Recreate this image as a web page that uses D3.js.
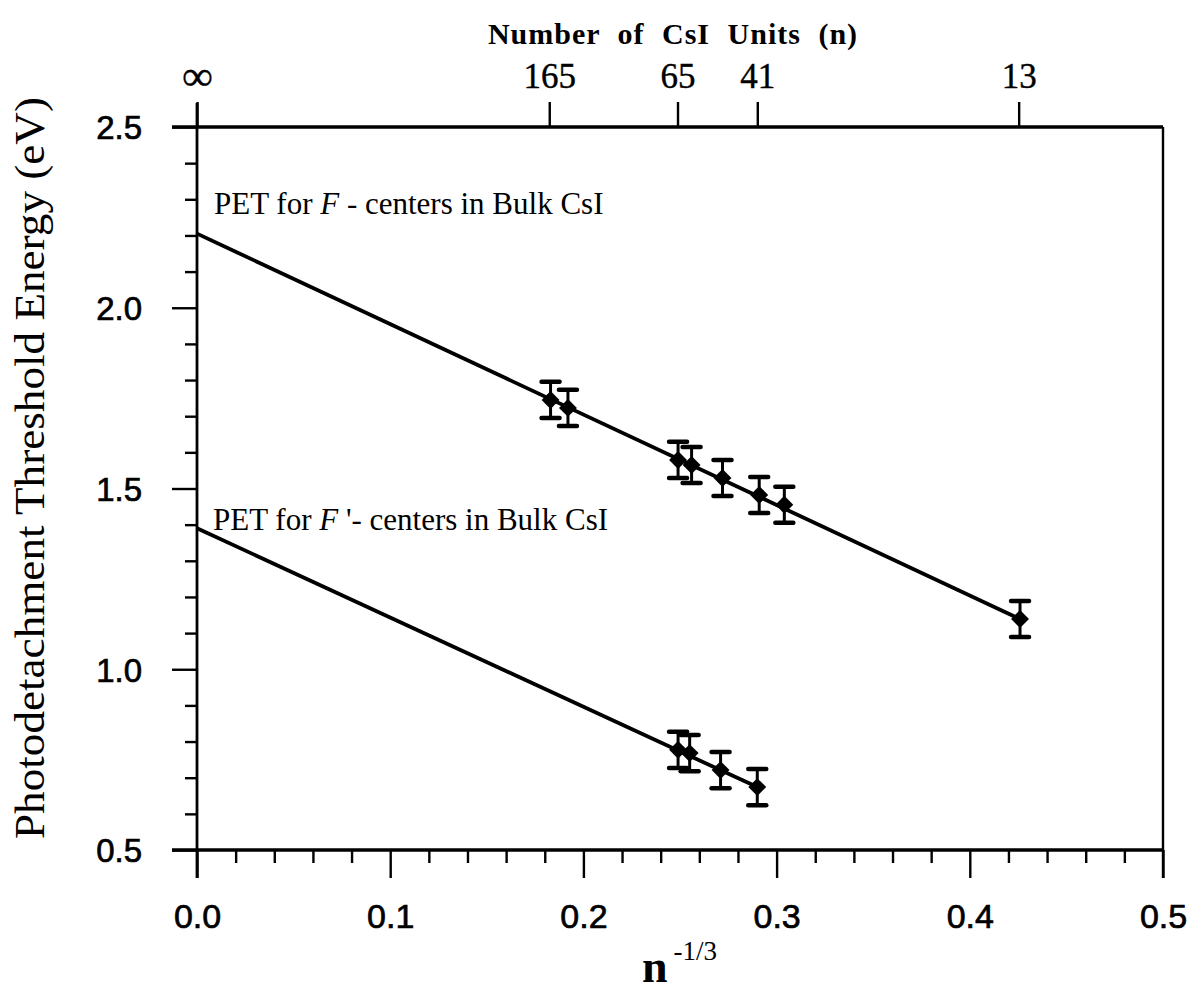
<!DOCTYPE html>
<html><head><meta charset="utf-8">
<script src="https://cdn.jsdelivr.net/npm/d3@7"></script>
<style>body{margin:0;background:#fff}</style>
</head><body><svg id="c" width="1189" height="992"></svg>
<script>
// ---- data (x = n^-1/3, y = photodetachment threshold energy, eV) ----
const fCenterX   = [0.183, 0.192, 0.249, 0.256, 0.272, 0.291, 0.304, 0.426];
const fCenterY   = [1.745, 1.723, 1.579, 1.565, 1.529, 1.482, 1.455, 1.139];
const fCenterErr = [0.05, 0.05, 0.05, 0.05, 0.05, 0.05, 0.05, 0.05];
const f2CenterX   = [0.249, 0.255, 0.271, 0.290];
const f2CenterY   = [0.777, 0.768, 0.721, 0.674];
const f2CenterErr = [0.05, 0.05, 0.05, 0.05];
const fFitX  = [0, 0.426];
const fFitY  = [2.205, 1.139];
const f2FitX = [0, 0.290];
const f2FitY = [1.39, 0.674];
const xMajorTicks = [0.0, 0.1, 0.2, 0.3, 0.4, 0.5];
const yMajorTicks = [0.5, 1.0, 1.5, 2.0, 2.5];
const topUnits = [Infinity, 165, 65, 41, 13];
const topLabels = ["∞", "165", "65", "41", "13"];

const svg = d3.select("#c");
const x = d3.scaleLinear().domain([0, 0.5]).range([197, 1163]);
const y = d3.scaleLinear().domain([0.5, 2.5]).range([850, 127]);
const serif = "'Liberation Serif', 'Times New Roman', serif";
const sans = "'Liberation Sans', Arial, sans-serif";

// minor ticks
const xMinor = d3.range(0, 0.5001, 0.02).filter(v => Math.abs(v*10 - Math.round(v*10)) > 1e-6);
const yMinor = d3.range(0.5, 2.5001, 0.1).filter(v => Math.abs(v*2 - Math.round(v*2)) > 1e-6);

const gxMinor = svg.append("g").attr("transform", "translate(0,850)")
  .call(d3.axisBottom(x).tickValues(xMinor).tickSize(13).tickSizeOuter(0).tickFormat(""));
const gyMinor = svg.append("g").attr("transform", "translate(197,0)")
  .call(d3.axisLeft(y).tickValues(yMinor).tickSize(12).tickSizeOuter(0).tickFormat(""));

const gx = svg.append("g").attr("transform", "translate(0,850)")
  .call(d3.axisBottom(x).tickValues(xMajorTicks).tickSize(28).tickSizeOuter(0).tickPadding(26)
    .tickFormat(d3.format(".1f")));
const gy = svg.append("g").attr("transform", "translate(197,0)")
  .call(d3.axisLeft(y).tickValues(yMajorTicks).tickSize(25).tickSizeOuter(0).tickPadding(30)
    .tickFormat(d3.format(".1f")));

const topVals = topUnits.map(n => n === Infinity ? 0 : Math.pow(n, -1/3));
const gt = svg.append("g").attr("transform", "translate(0,127)")
  .call(d3.axisTop(x).tickValues(topVals).tickSize(25).tickSizeOuter(0).tickPadding(14)
    .tickFormat((d, i) => topLabels[i]));

[gxMinor, gyMinor, gx, gy, gt].forEach(g => {
  g.select(".domain").remove();
  g.selectAll(".tick line").attr("stroke", "#000").attr("stroke-width", 2.4);
});
gx.selectAll("text").attr("font-family", sans).attr("font-size", 34).attr("fill", "#000")
  .attr("stroke", "#000").attr("stroke-width", 0.7);
gy.selectAll("text").attr("font-family", sans).attr("font-size", 33).attr("fill", "#000")
  .attr("stroke", "#000").attr("stroke-width", 0.7).attr("dy", "0.36em");
gt.selectAll("text").attr("font-family", serif).attr("fill", "#000")
  .attr("font-weight", (d, i) => i === 0 ? "bold" : "normal")
  .attr("font-size", (d, i) => i === 0 ? 42 : 35)
  .attr("stroke", "#000").attr("stroke-width", 0.4)
  .attr("dy", (d, i) => i === 0 ? "0.05em" : "0");

// frame
const frame = svg.append("g").attr("stroke", "#000").attr("fill", "none");
frame.append("line").attr("x1", 172).attr("x2", x(0.5)).attr("y1", y(2.5)).attr("y2", y(2.5)).attr("stroke-width", 3.4);
frame.append("line").attr("x1", 172).attr("x2", x(0.5)).attr("y1", y(0.5)).attr("y2", y(0.5)).attr("stroke-width", 3.4);
frame.append("line").attr("x1", x(0)).attr("x2", x(0)).attr("y1", 103).attr("y2", 878).attr("stroke-width", 2.8);
frame.append("line").attr("x1", x(0.5)).attr("x2", x(0.5)).attr("y1", y(2.5)).attr("y2", 878).attr("stroke-width", 2.4);

// fit lines
const line = d3.line().x(d => x(d[0])).y(d => y(d[1]));
svg.append("path").datum(d3.zip(fFitX, fFitY)).attr("d", line)
  .attr("stroke", "#000").attr("stroke-width", 3.8).attr("fill", "none");
svg.append("path").datum(d3.zip(f2FitX, f2FitY)).attr("d", line)
  .attr("stroke", "#000").attr("stroke-width", 3.8).attr("fill", "none");

// points with error bars
function drawSeries(xs, ys, es) {
  const g = svg.append("g");
  const data = xs.map((v, i) => ({x: v, y: ys[i], e: es[i]}));
  const pt = g.selectAll("g").data(data).join("g");
  pt.append("line").attr("x1", d => x(d.x)).attr("x2", d => x(d.x))
    .attr("y1", d => y(d.y - d.e)).attr("y2", d => y(d.y + d.e))
    .attr("stroke", "#000").attr("stroke-width", 3);
  pt.append("line").attr("x1", d => x(d.x) - 9).attr("x2", d => x(d.x) + 9)
    .attr("y1", d => y(d.y + d.e)).attr("y2", d => y(d.y + d.e))
    .attr("stroke", "#000").attr("stroke-width", 4.5).attr("stroke-linecap", "round");
  pt.append("line").attr("x1", d => x(d.x) - 9).attr("x2", d => x(d.x) + 9)
    .attr("y1", d => y(d.y - d.e)).attr("y2", d => y(d.y - d.e))
    .attr("stroke", "#000").attr("stroke-width", 4.5).attr("stroke-linecap", "round");
  pt.append("path").attr("d", d3.symbol(d3.symbolSquare, 160)())
    .attr("transform", d => `translate(${x(d.x)},${y(d.y)}) rotate(45)`)
    .attr("fill", "#000");
}
drawSeries(fCenterX, fCenterY, fCenterErr);
drawSeries(f2CenterX, f2CenterY, f2CenterErr);

// annotations
const t1 = svg.append("text").attr("x", 214).attr("y", 214)
  .attr("font-family", serif).attr("font-size", 31).attr("fill", "#000");
t1.append("tspan").text("PET for ");
t1.append("tspan").attr("font-style", "italic").text("F");
t1.append("tspan").text(" - centers in Bulk CsI");
const t2 = svg.append("text").attr("x", 213).attr("y", 530)
  .attr("font-family", serif).attr("font-size", 31).attr("fill", "#000");
t2.append("tspan").text("PET for ");
t2.append("tspan").attr("font-style", "italic").text("F");
t2.append("tspan").text(" '- centers in Bulk CsI");

// axis titles
svg.append("text").attr("transform", "translate(44,468) rotate(-90)")
  .attr("text-anchor", "middle").attr("font-family", serif).attr("font-size", 43)
  .attr("textLength", 742).attr("lengthAdjust", "spacingAndGlyphs")
  .attr("fill", "#000").text("Photodetachment Threshold Energy (eV)");
svg.append("text").attr("x", 673).attr("y", 44).attr("text-anchor", "middle")
  .attr("font-family", serif).attr("font-size", 30).attr("font-weight", "bold")
  .attr("word-spacing", 9).attr("letter-spacing", 1)
  .attr("fill", "#000").text("Number of CsI Units (n)");
const xt = svg.append("text").attr("x", 642).attr("y", 982)
  .attr("font-family", serif).attr("fill", "#000");
xt.append("tspan").attr("font-size", 46).attr("font-weight", "bold").text("n");
xt.append("tspan").attr("font-size", 27).attr("dy", -22).attr("dx", 6).text("-1/3");
</script>
</body></html>
